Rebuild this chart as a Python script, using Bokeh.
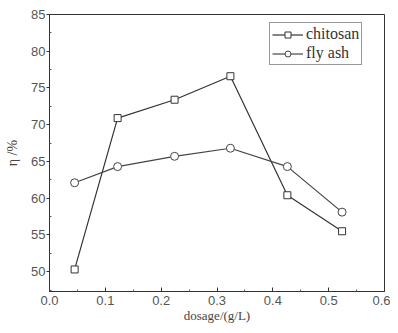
from bokeh.plotting import figure
from bokeh.models import FixedTicker, Range1d, Legend, LegendItem
from bokeh.embed import file_html
from bokeh.resources import INLINE

dosage = [0.045, 0.122, 0.224, 0.324, 0.426, 0.524]
chitosan = [50.3, 70.9, 73.4, 76.6, 60.4, 55.5]
fly_ash = [62.1, 64.3, 65.7, 66.8, 64.3, 58.1]
x_ticks = [0.0, 0.1, 0.2, 0.3, 0.4, 0.5, 0.6]
y_ticks = [50, 55, 60, 65, 70, 75, 80, 85]

p = figure(width=390, height=325, output_backend="svg", toolbar_location=None,
           x_range=Range1d(0, 0.6), y_range=Range1d(47.3, 85))
p.min_border_left = 49
p.min_border_right = 6
p.min_border_top = 14
p.min_border_bottom = 28
p.outline_line_color = "#333333"
p.outline_line_width = 1
p.grid.visible = False
p.background_fill_color = "white"
p.border_fill_color = "white"

l1 = p.line(dosage, chitosan, line_color="#333333", line_width=1.2)
m1 = p.scatter(dosage, chitosan, marker="square", size=7, fill_color="white",
               line_color="#333333", line_width=1)
l2 = p.line(dosage, fly_ash, line_color="#444444", line_width=1.2)
m2 = p.scatter(dosage, fly_ash, marker="circle", size=8, fill_color="white",
               line_color="#444444", line_width=1)

p.xaxis.ticker = FixedTicker(ticks=x_ticks, minor_ticks=[0.05, 0.15, 0.25, 0.35, 0.45, 0.55])
p.yaxis.ticker = FixedTicker(ticks=y_ticks, minor_ticks=[47.5, 52.5, 57.5, 62.5, 67.5, 72.5, 77.5, 82.5])
p.xaxis.major_label_overrides = {t: f"{t:.1f}" for t in x_ticks}
for ax in (p.xaxis, p.yaxis):
    ax.minor_tick_in = 2
    ax.minor_tick_out = 0
    ax.axis_line_color = "#333333"
    ax.major_tick_line_color = "#333333"
    ax.minor_tick_line_color = "#555555"
    ax.major_label_text_font = "Liberation Sans"
    ax.major_label_text_font_size = "13px"
    ax.major_label_text_color = "#555555"
    ax.axis_label_text_font = "Liberation Serif"
    ax.axis_label_text_font_style = "normal"
    ax.axis_label_text_color = "#444444"

p.xaxis.major_tick_in = 4
p.xaxis.major_tick_out = 0
p.yaxis.major_tick_in = 0
p.yaxis.major_tick_out = 3
p.xaxis.axis_label = "dosage/(g/L)"
p.yaxis.axis_label = "η /%"
p.xaxis.axis_label_text_font_size = "13px"
p.yaxis.axis_label_text_font_size = "14px"
p.xaxis.major_label_standoff = 4
p.xaxis.axis_label_standoff = 0
p.yaxis.major_label_standoff = 1
p.yaxis.axis_label_standoff = 8

legend = Legend(items=[LegendItem(label="chitosan", renderers=[l1, m1]),
                       LegendItem(label="fly ash", renderers=[l2, m2])],
                location=(220, 226))
p.add_layout(legend)
p.legend.label_text_font = "Liberation Serif"
p.legend.label_text_font_style = "normal"
p.legend.label_text_font_size = "16px"
p.legend.label_text_color = "#333333"
p.legend.border_line_color = "#333333"
p.legend.border_line_width = 1
p.legend.margin = 0
p.legend.padding = 2
p.legend.spacing = 1
p.legend.glyph_width = 31
p.legend.glyph_height = 15
p.legend.label_height = 15
p.legend.label_standoff = 3

open("out.html", "w").write(file_html(p, INLINE))
